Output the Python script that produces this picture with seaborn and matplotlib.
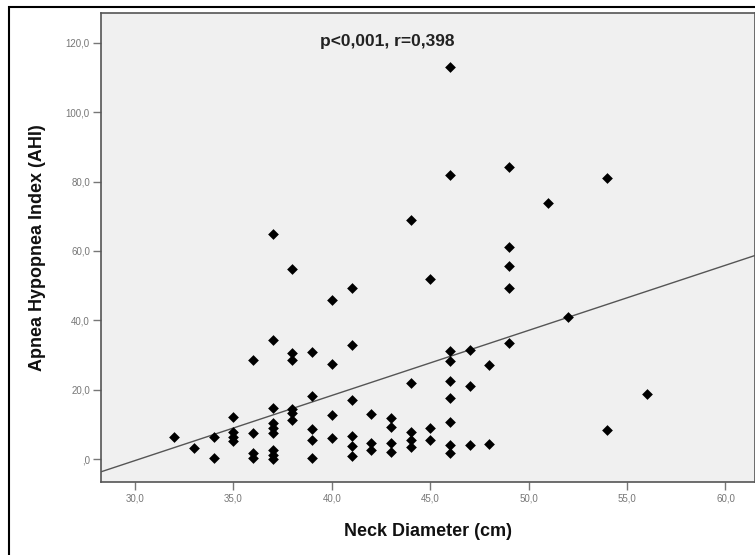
import numpy as np
import pandas as pd
import matplotlib
matplotlib.use("Agg")
import matplotlib.pyplot as plt
import matplotlib.ticker as mticker
from matplotlib.patches import Rectangle
import seaborn as sns

# neck diameter (cm) and AHI
neck = ([32] + [33] + [34] * 2 + [35] * 4 + [36] * 4 + [37] * 9 + [38] * 6
        + [39] * 5 + [40] * 4 + [41] * 6 + [42] * 3 + [43] * 4 + [44] * 5
        + [45] * 3 + [46] * 9 + [47] * 3 + [48] * 2 + [49] * 5 + [51] + [52]
        + [54] * 2 + [56])
ahi = [6.4,
       3.1,
       6.4, 0.2,
       12.1, 7.9, 6.4, 5.2,
       28.5, 7.6, 1.7, 0.3,
       64.8, 34.3, 14.7, 10.4, 9.0, 7.5, 2.7, 1.2, 0.0,
       54.8, 30.6, 28.6, 14.5, 13.3, 11.2,
       30.9, 18.1, 8.6, 5.5, 0.3,
       45.9, 27.5, 12.7, 6.0,
       49.3, 32.9, 17.0, 6.6, 3.8, 0.8,
       13.0, 4.6, 2.6,
       11.8, 9.3, 4.6, 2.1,
       69.0, 21.8, 7.8, 5.5, 3.6,
       51.9, 8.9, 5.5,
       113.0, 82.0, 31.2, 28.3, 22.5, 17.6, 10.7, 4.0, 1.7,
       31.4, 21.0, 4.0,
       27.1, 4.3,
       84.2, 61.2, 55.8, 49.4, 33.5,
       73.8,
       41.0,
       81.1, 8.4,
       18.7]

x_ticks = [30, 35, 40, 45, 50, 55, 60]
y_ticks = [0, 20, 40, 60, 80, 100, 120]
stat_text = "p<0,001, r=0,398"

df = pd.DataFrame({"neck": neck, "ahi": ahi})

sns.set_style("ticks")
plt.rcParams['font.family'] = ['Liberation Sans', 'DejaVu Sans']

fig = plt.figure(figsize=(7.55, 5.55), dpi=100)
ax = fig.add_axes([101 / 755, 1 - 482 / 555, 1 - 101 / 755, (482 - 13) / 555])
ax.set_facecolor("#f0f0f0")

# limits first so the fit line runs across the whole panel
ax.set_xlim(28.27, 61.5)
ax.set_ylim(-6.6, 128.6)

sns.regplot(data=df, x="neck", y="ahi", ax=ax, ci=None, truncate=False,
            marker="D", color="black",
            scatter_kws={"s": 30, "linewidths": 0, "alpha": 1, "zorder": 3},
            line_kws={"color": "#555555", "linewidth": 1.0, "zorder": 2})

ax.set_xlim(28.27, 61.5)
ax.set_ylim(-6.6, 128.6)
ax.set_xticks(x_ticks)
ax.set_yticks(y_ticks)

def spss_fmt(v, pos):
    s = "%.1f" % v
    if s.startswith("0"):
        s = s[1:]
    return s.replace(".", ",")

ax.xaxis.set_major_formatter(mticker.FuncFormatter(spss_fmt))
ax.yaxis.set_major_formatter(mticker.FuncFormatter(spss_fmt))
ax.tick_params(axis="both", labelsize=7, colors="#777777", length=6, width=1,
               direction="out", pad=2)

for side in ["left", "bottom", "top", "right"]:
    ax.spines[side].set_color("#555555")
    ax.spines[side].set_linewidth(1.2)

ax.set_xlabel("Neck Diameter (cm)", fontsize=13, fontweight="bold", labelpad=14,
              color="#111111")
ax.set_ylabel("Apnea Hypopnea Index (AHI)", fontsize=13, fontweight="bold",
              labelpad=14, color="#111111")

ax.text(42.8, 120.3, stat_text, fontsize=12.5, fontweight="bold",
        ha="center", va="center", color="#222222")

# outer frame around the whole chart
fig.patches.append(Rectangle((9 / 755, -0.1), 1.2, 1 - 7 / 555 + 0.1,
                             transform=fig.transFigure, fill=False,
                             edgecolor="black", linewidth=1.5))

fig.savefig("out.png", dpi=100)
